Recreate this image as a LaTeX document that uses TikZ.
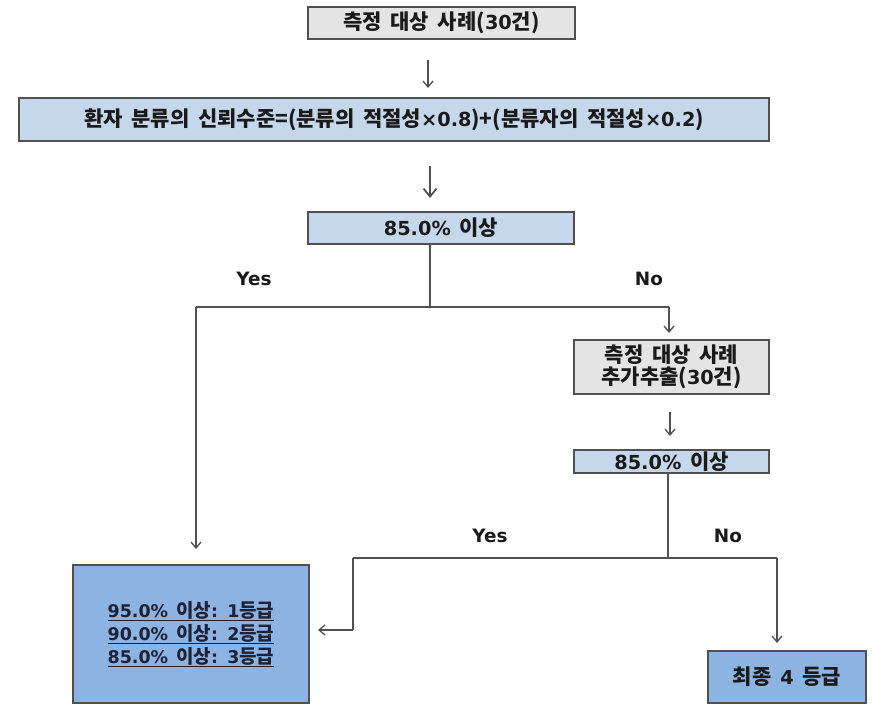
\documentclass[tikz,border=0pt]{standalone}
\usepackage{fontspec}
\setmainfont{Noto Sans CJK KR}[WordSpace=1.8]
\newfontfamily\lat{DejaVu Sans}[Scale=0.92]
\usetikzlibrary{arrows.meta}
\definecolor{grayfill}{HTML}{E4E4E4}
\definecolor{lightblue}{HTML}{C6D7EC}
\definecolor{midblue}{HTML}{8DB3E2}
\definecolor{edge}{HTML}{505050}
\definecolor{ink}{HTML}{1A1A1A}
\definecolor{navyink}{HTML}{1C2338}
\tikzset{
  box/.style={draw=edge, line width=1.5pt, inner sep=0pt, align=center,
    font=\fontsize{21}{22}\selectfont\bfseries, text=ink},
  graybox/.style={box, fill=grayfill},
  bluebox/.style={box, fill=lightblue},
  darkbox/.style={box, fill=midblue},
  conn/.style={draw=edge, line width=1.2pt},
  arr/.style={conn, -{Straight Barb[length=6pt,width=10pt,line width=1.3pt]}},
  bigarr/.style={conn, line width=1.8pt, -{Straight Barb[length=8pt,width=13pt,line width=1.8pt]}},
  lbl/.style={font=\lat\fontsize{20}{20}\selectfont\bfseries, text=ink}
}
\begin{document}
\begin{tikzpicture}[x=1pt,y=-1pt]
\fill[white] (0,0) rectangle (873,707);
\useasboundingbox (0,0) rectangle (873,707);

\node[graybox, minimum width=267pt, minimum height=32pt] (b1) at (441.5,23) {측정 대상 사례({\lat 30}건)};
\node[bluebox, minimum width=750pt, minimum height=43pt] (b2) at (394,119.5) {환자 분류의 신뢰수준=(분류의 적절성{\lat ×0.8})+(분류자의 적절성{\lat ×0.2})};
\node[bluebox, minimum width=266pt, minimum height=32pt] (b3) at (441,228) {{\lat 85.0\%} 이상};
\node[graybox, minimum width=195pt, minimum height=54pt] (b4) at (671.5,367) {측정 대상 사례\\추가추출({\lat 30}건)};
\node[bluebox, minimum width=195pt, minimum height=23pt] (b5) at (671.5,461.5) {{\lat 85.0\%} 이상};
\node[darkbox, minimum width=236pt, minimum height=138pt, text=navyink, font=\fontsize{19}{23}\selectfont\bfseries] (b6) at (191,634) {\underline{{\lat 95.0\%} 이상{\lat :} {\lat 1}등급}\\\underline{{\lat 90.0\%} 이상{\lat :} {\lat 2}등급}\\\underline{{\lat 85.0\%} 이상{\lat :} {\lat 3}등급}};
\node[darkbox, minimum width=158pt, minimum height=52pt] (b7) at (787,677) {최종 {\lat 4} 등급};

% free arrows between boxes
\coordinate (a1s) at (428,60);
\coordinate (a1e) at (428,88);
\draw[arr] (a1s) -- (a1e);
\coordinate (a2s) at (430,166);
\coordinate (a2e) at (430,198);
\draw[bigarr] (a2s) -- (a2e);
\coordinate (a3s) at (670,412);
\coordinate (a3e) at (670,436);
\draw[arr] (a3s) -- (a3e);

% first decision
\coordinate (j1) at (430,307);
\coordinate (j1l) at (196,307);
\coordinate (j1r) at (669,307);
\coordinate (t1l) at (196,549);
\coordinate (t1r) at (669,333);
\draw[conn] (b3.south -| j1) -- (j1);
\draw[conn] (j1l) -- (j1r);
\draw[arr] (j1l) -- (t1l);
\draw[arr] (j1r) -- (t1r);
\node[lbl] (yes1) at (254,279) {Yes};
\node[lbl] (no1) at (649,279) {No};

% second decision
\coordinate (j2) at (668,558);
\coordinate (j2l) at (353,558);
\coordinate (j2r) at (777,558);
\coordinate (k2) at (353,630);
\coordinate (t2l) at (318,630);
\coordinate (t2r) at (777,643);
\draw[conn] (b5.south -| j2) -- (j2);
\draw[conn] (j2l) -- (j2r);
\draw[conn] (j2l) -- (k2);
\draw[arr] (k2) -- (t2l);
\draw[arr] (j2r) -- (t2r);
\node[lbl] (yes2) at (490,536) {Yes};
\node[lbl] (no2) at (728,536) {No};
\end{tikzpicture}
\end{document}
